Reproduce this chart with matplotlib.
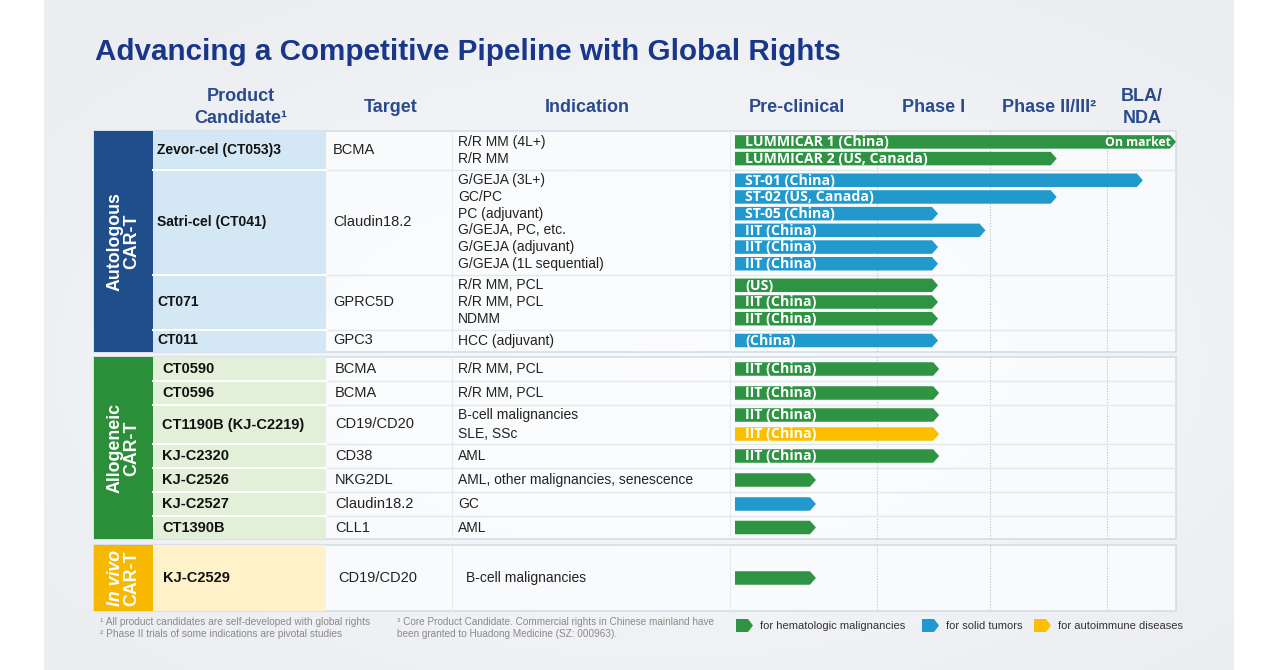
import numpy as np
import matplotlib.pyplot as plt
from matplotlib.patches import Polygon, Rectangle

W, H = 1279, 670

title = "Advancing a Competitive Pipeline with Global Rights"
col_headers = ["Product\nCandidate\u00b9", "Target", "Indication"]
phase_headers = ["Pre-clinical", "Phase I", "Phase II/III\u00b2", "BLA/\nNDA"]

# --- data -------------------------------------------------------------
group_lines = [("Autologous", "CAR-T"), ("Allogeneic", "CAR-T"), ("In vivo", "CAR-T")]

auto_products = ["Zevor-cel (CT053)3", "Satri-cel (CT041)", "CT071", "CT011"]
auto_targets = ["BCMA", "Claudin18.2", "GPRC5D", "GPC3"]
auto_indications = [
    ["R/R MM (4L+)", "R/R MM"],
    ["G/GEJA (3L+)", "GC/PC", "PC (adjuvant)", "G/GEJA, PC, etc.",
     "G/GEJA (adjuvant)", "G/GEJA (1L sequential)"],
    ["R/R MM, PCL", "R/R MM, PCL", "NDMM"],
    ["HCC (adjuvant)"],
]
auto_labels = [
    ["LUMMICAR 1 (China)", "LUMMICAR 2 (US, Canada)"],
    ["ST-01 (China)", "ST-02 (US, Canada)", "ST-05 (China)", "IIT (China)",
     "IIT (China)", "IIT (China)"],
    ["(US)", "IIT (China)", "IIT (China)"],
    ["(China)"],
]
# progress in phase units: 0 start, 1 end of pre-clinical, 2 end of phase I, ...
auto_stage = [[4.0, 2.57], [3.52, 2.57, 1.54, 1.96, 1.54, 1.54],
              [1.54, 1.54, 1.54], [1.54]]
auto_kind = [["heme", "heme"], ["solid"] * 6, ["heme"] * 3, ["solid"]]

allo_products = ["CT0590", "CT0596", "CT1190B (KJ-C2219)", "KJ-C2320",
                 "KJ-C2526", "KJ-C2527", "CT1390B"]
allo_targets = ["BCMA", "BCMA", "CD19/CD20", "CD38", "NKG2DL", "Claudin18.2", "CLL1"]
allo_indications = [["R/R MM, PCL"], ["R/R MM, PCL"],
                    ["B-cell malignancies", "SLE, SSc"], ["AML"],
                    ["AML, other malignancies, senescence"], ["GC"], ["AML"]]
allo_labels = [["IIT (China)"], ["IIT (China)"], ["IIT (China)", "IIT (China)"],
               ["IIT (China)"], [""], [""], [""]]
allo_stage = [[1.55], [1.55], [1.55, 1.55], [1.55], [0.57], [0.57], [0.57]]
allo_kind = [["heme"], ["heme"], ["heme", "auto"], ["heme"], ["heme"], ["solid"], ["heme"]]

vivo_products = ["KJ-C2529"]
vivo_targets = ["CD19/CD20"]
vivo_indications = [["B-cell malignancies"]]
vivo_labels = [[""]]
vivo_stage = [[0.57]]
vivo_kind = [["heme"]]

legend_kinds = ["heme", "solid", "auto"]
legend_texts = ["for hematologic malignancies", "for solid tumors", "for autoimmune diseases"]

footnotes_left = ["\u00b9 All product candidates are self-developed with global rights",
                  "\u00b2 Phase II trials of some indications are pivotal studies"]
footnotes_right = ["\u00b3 Core Product Candidate. Commercial rights in Chinese mainland have",
                   "been granted to Huadong Medicine (SZ: 000963)."]

# --- style / layout ---------------------------------------------------
kind_color = {"heme": "#2e9443", "solid": "#2199cc", "auto": "#fcbf00"}
band_color = ["#1f4e8a", "#2b8f3a", "#f6b800"]
prod_color = ["#d3e7f4", "#e2f0d9", "#fff1c9"]
NAVY = "#18378a"
HEAD = "#2a4a8e"
SANS = ["Liberation Sans", "DejaVu Sans"]
BARFONT = ["Open Sans", "DejaVu Sans"]

X_LEFT, X_BAND, X_PROD, X_TGT, X_IND, X_RIGHT = 94, 153, 326, 452, 730, 1176
phase_px = [735, 877, 990, 1107, 1176]
group_top = [131, 357, 545]
row_heights = [[38.5, 105, 55, 22], [24, 24, 39, 24, 24, 24, 23], [66]]
pitch = [16.7, 19, 16]
name_x = [157, 162, 163]
target_x = [333, 335, 338]
ind_x = [458, 458, 466]
name_size = [10, 10.5, 10.5]
ind_size = [10, 10, 10]
BAR_H = 13.5
TIP = 6

groups = [
    (auto_products, auto_targets, auto_indications, auto_labels, auto_stage, auto_kind),
    (allo_products, allo_targets, allo_indications, allo_labels, allo_stage, allo_kind),
    (vivo_products, vivo_targets, vivo_indications, vivo_labels, vivo_stage, vivo_kind),
]


def arrow(ax, x0, x1, yc, h, color, tip=TIP, z=4):
    pts = [(x0, yc - h / 2), (x1 - tip, yc - h / 2), (x1, yc),
           (x1 - tip, yc + h / 2), (x0, yc + h / 2)]
    ax.add_patch(Polygon(pts, closed=True, facecolor=color, edgecolor="none", zorder=z))


fig = plt.figure(figsize=(W / 100, H / 100), dpi=100)
ax = fig.add_axes([0, 0, 1, 1])
ax.set_xlim(0, W)
ax.set_ylim(H, 0)
ax.axis("off")

# slide background with a soft gradient
yy, xx = np.mgrid[0:H, 0:1190]
t = np.clip(np.sqrt(((xx - 620) / 760.0) ** 2 + ((yy - 360) / 420.0) ** 2), 0, 1)
inner = np.array([0.975, 0.978, 0.985])
outer = np.array([0.925, 0.932, 0.945])
bg = inner[None, None, :] * (1 - t[..., None]) + outer[None, None, :] * t[..., None]
ax.imshow(bg, extent=(44, 1234, H, 0), zorder=0, aspect="auto")

ax.text(95, 60, title, fontsize=21.3, fontweight="bold", color=NAVY,
        family=SANS, va="baseline", ha="left")

# column headers
for txt, xc in zip(col_headers, [241, 391, 587]):
    ax.text(xc, 107.5, txt, fontsize=13, fontweight="bold", color=HEAD, family=SANS,
            ha="center", va="center", linespacing=1.32)
for txt, xc in zip(phase_headers, [797, 934, 1049, 1142]):
    ax.text(xc, 107.5, txt, fontsize=13, fontweight="bold", color=HEAD, family=SANS,
            ha="center", va="center", linespacing=1.32)

for g, (prods, tgts, inds, labels, stages, kinds) in enumerate(groups):
    top = group_top[g]
    hts = row_heights[g]
    bottom = top + sum(hts)
    ax.add_patch(Rectangle((X_LEFT, top), X_RIGHT - X_LEFT, bottom - top,
                           facecolor="#fcfdfe", alpha=0.8, edgecolor="#cbd7e3",
                           lw=1.2, zorder=1))
    ax.add_patch(Rectangle((X_LEFT, top), X_BAND - X_LEFT, bottom - top,
                           facecolor=band_color[g], edgecolor="none", zorder=2))
    ax.add_patch(Rectangle((X_BAND, top), X_PROD - X_BAND, bottom - top,
                           facecolor=prod_color[g], edgecolor="none", zorder=2))
    for xv in [X_TGT, X_IND]:
        ax.plot([xv, xv], [top, bottom], color="#e6ebf0", lw=0.8, zorder=2)
    for xv in phase_px[1:4]:
        ax.plot([xv, xv], [top, bottom], color="#b9c3cd", lw=0.8,
                ls=(0, (1, 1.5)), zorder=2)

    # band label, two lines
    yc = (top + bottom) / 2
    l1, l2 = group_lines[g]
    ax.text(115, yc, l1, rotation=90, color="white", fontsize=12.8, fontweight="bold",
            fontstyle="italic" if g == 2 else "normal", family=SANS,
            ha="center", va="center", zorder=3)
    ax.text(132, yc, l2, rotation=90, color="white", fontsize=12.8, fontweight="bold",
            family=SANS, ha="center", va="center", zorder=3)

    y = top
    for r, h in enumerate(hts):
        if r > 0:
            ax.plot([X_BAND, X_PROD], [y, y], color="white", lw=1.5, zorder=3)
            ax.plot([X_PROD, X_RIGHT], [y, y], color="#e3e8ee", lw=1.0, zorder=2)
        rc = y + h / 2
        ax.text(name_x[g], rc, prods[r], fontsize=name_size[g], fontweight="bold",
                color="#111111", family=SANS, ha="left", va="center", zorder=3)
        ax.text(target_x[g], rc, tgts[r], fontsize=10.5, color="#222222", family=SANS,
                ha="left", va="center", zorder=3)
        n = len(inds[r])
        for i in range(n):
            ly = rc + (i - (n - 1) / 2) * pitch[g]
            ax.text(ind_x[g], ly, inds[r][i], fontsize=ind_size[g], color="#222222",
                    family=SANS, ha="left", va="center", zorder=3)
            x_end = np.interp(stages[r][i], range(5), phase_px)
            arrow(ax, phase_px[0], x_end, ly, BAR_H, kind_color[kinds[r][i]])
            if labels[r][i]:
                ax.text(745, ly + 0.3, labels[r][i], fontsize=10.2, fontweight="bold",
                        color="white", family=BARFONT, ha="left", va="center",
                        zorder=5)
            if stages[r][i] >= 4:
                ax.text(x_end - 5, ly + 0.3, "On market", fontsize=8.8,
                        fontweight="bold", color="white", family=BARFONT,
                        ha="right", va="center", zorder=5)
        y += h

# footnotes
for i, txt in enumerate(footnotes_left):
    ax.text(100, 622 + 12 * i, txt, fontsize=7.3, color="#8a8a8a", family=SANS,
            ha="left", va="center")
for i, txt in enumerate(footnotes_right):
    ax.text(397, 622 + 12 * i, txt, fontsize=7.2, color="#8a8a8a", family=SANS,
            ha="left", va="center")

# legend
for kind, txt, x0 in zip(legend_kinds, legend_texts, [736, 922, 1034]):
    arrow(ax, x0, x0 + 17, 625.5, 13, kind_color[kind], tip=5)
    ax.text(x0 + 24, 626, txt, fontsize=8, color="#333333", family=SANS,
            ha="left", va="center")

fig.savefig("out.png", dpi=100, facecolor="white")
